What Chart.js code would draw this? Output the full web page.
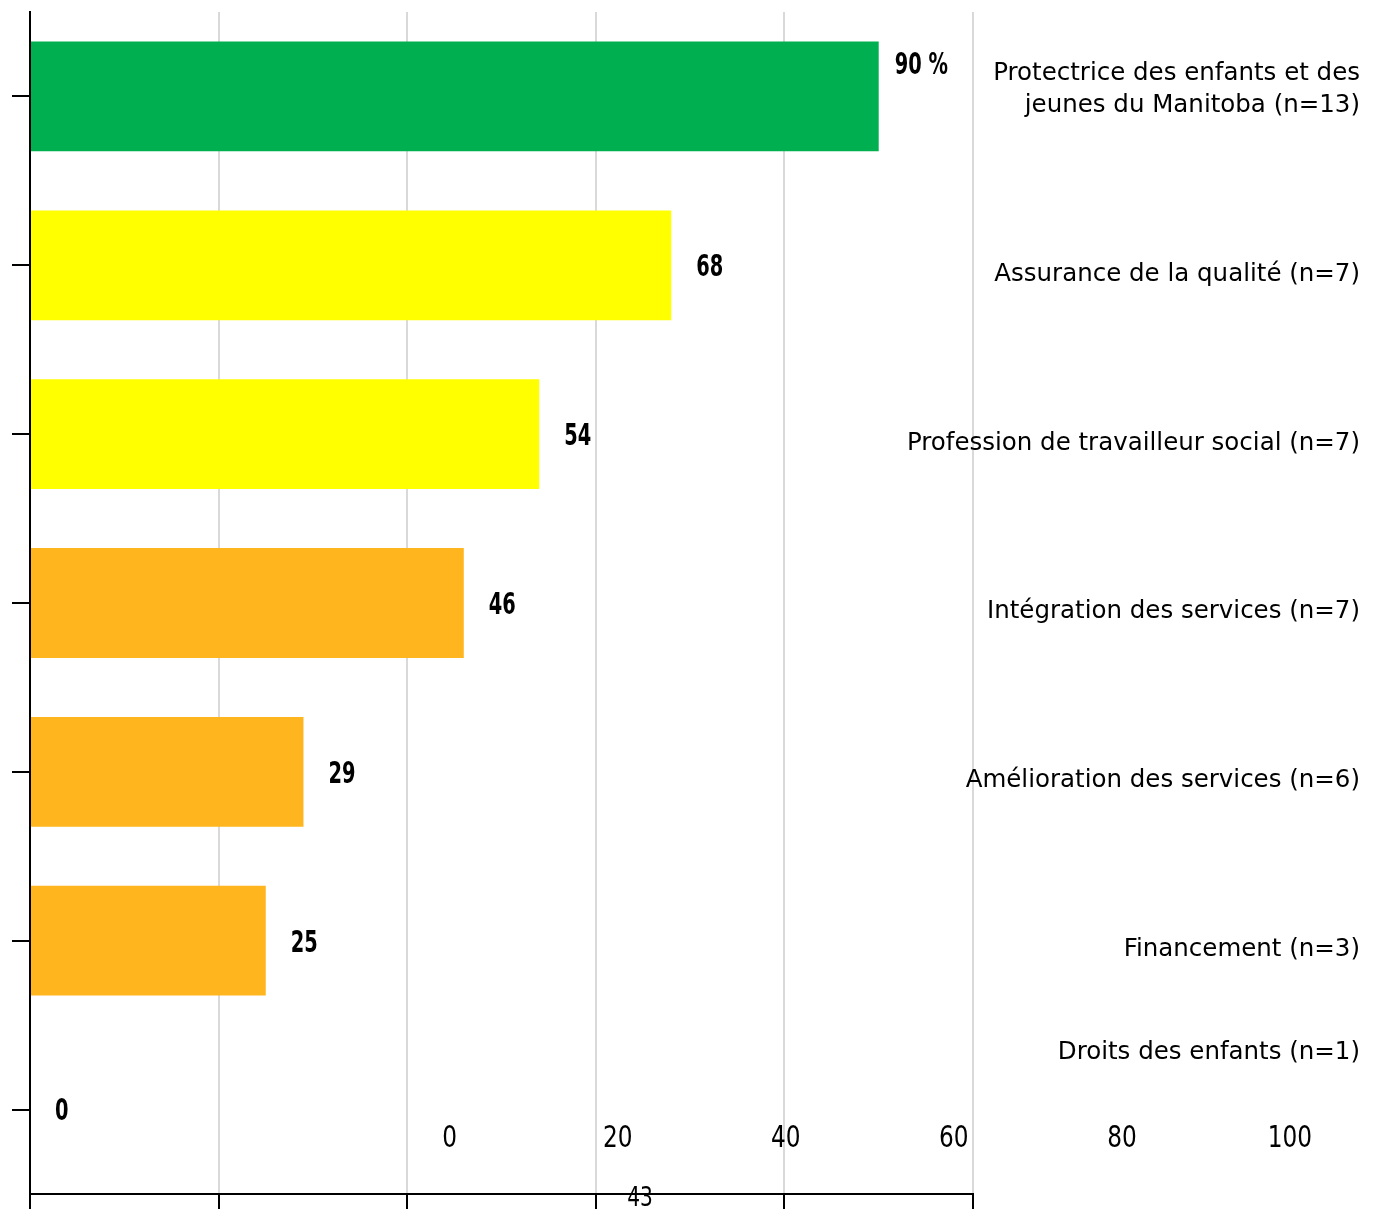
<!DOCTYPE html>
<html lang="fr">
<head>
    <meta charset="UTF-8">
    <title>Thèmes des recommandations</title>
    <script src="https://cdn.jsdelivr.net/npm/chart.js"></script>
    <style>
        body {
            margin: 0;
            background: #fff;
            overflow: hidden;
        }

        canvas {
            display: block;
        }
    </style>
</head>
<body>
    <canvas id="themesChart" width="1379" height="1209"></canvas>

    <script>
        // Data
        const categories = [
            ['Protectrice des enfants et des', 'jeunes du Manitoba (n=13)'],
            'Assurance de la qualité (n=7)',
            'Profession de travailleur social (n=7)',
            'Intégration des services (n=7)',
            'Amélioration des services (n=6)',
            'Financement (n=3)',
            'Droits des enfants (n=1)'
        ];
        const values = [90, 68, 54, 46, 29, 25, 0];
        const barColors = ['#00b050', '#ffff00', '#ffff00', '#ffb51e', '#ffb51e', '#ffb51e', '#ffb51e'];
        const tickLabels = ['0', '20', '40', '60', '80', '100'];
        const strayLabel = '43';

        const narrowFont = '"Liberation Sans Narrow", "DejaVu Sans Condensed", sans-serif';
        const labelFont = '"DejaVu Sans", Verdana, sans-serif';

        // narrow, tall numbers like the source (squeezed horizontally)
        function drawNarrow(ctx, text, x, y, font, kx, align) {
            ctx.save();
            ctx.translate(x, y);
            ctx.scale(kx, 1);
            ctx.font = font;
            ctx.textAlign = align;
            ctx.textBaseline = 'middle';
            ctx.fillText(text, 0, 0);
            ctx.restore();
        }

        // Category names on the right, value labels at bar ends, odd tick row
        const textPlugin = {
            id: 'textPlugin',
            afterDatasetsDraw(chart) {
                const ctx = chart.ctx;
                const x = chart.scales.x;
                const y = chart.scales.y;
                const meta = chart.getDatasetMeta(0);
                const last = categories.length - 1;

                ctx.save();
                ctx.fillStyle = '#000';

                // value labels
                meta.data.forEach((bar, i) => {
                    const txt = i === 0 ? values[i] + ' %' : String(values[i]);
                    const dx = i === 0 ? 16 : 25;
                    const dy = i === 0 ? -30 : 3;
                    drawNarrow(ctx, txt, bar.x + dx, bar.y + dy, 'bold 30px ' + narrowFont, 0.72, 'left');
                });

                // category labels
                ctx.font = '24.5px ' + labelFont;
                ctx.textAlign = 'right';
                ctx.textBaseline = 'middle';
                categories.forEach((cat, i) => {
                    const lines = Array.isArray(cat) ? cat : [cat];
                    const cy = y.getPixelForValue(i);
                    let top = (i === last ? -57 : 9) - 32 * (lines.length - 1);
                    lines.forEach((ln, j) => {
                        ctx.fillText(ln, 1360, cy + top + j * 32);
                    });
                });

                // tick labels (shifted row, as in the source)
                tickLabels.forEach(t => {
                    const px = x.getPixelForValue(Number(t));
                    drawNarrow(ctx, t, 423 + px * 0.891, 1139, '30px ' + narrowFont, 0.86, 'center');
                });

                drawNarrow(ctx, strayLabel, 640, 1199, '26px ' + narrowFont, 0.86, 'center');
                ctx.restore();
            }
        };

        const chartCtx = document.getElementById('themesChart').getContext('2d');
        new Chart(chartCtx, {
            type: 'bar',
            data: {
                labels: categories,
                datasets: [{
                    data: values,
                    backgroundColor: barColors,
                    borderWidth: 0,
                    barPercentage: 0.65,
                    categoryPercentage: 1
                }]
            },
            options: {
                indexAxis: 'y',
                responsive: false,
                animation: false,
                devicePixelRatio: 1,
                layout: {
                    padding: { top: 12, right: 406, left: 0, bottom: 0 }
                },
                plugins: {
                    legend: { display: false },
                    tooltip: { enabled: false }
                },
                scales: {
                    x: {
                        min: 0,
                        max: 100,
                        ticks: { display: false, stepSize: 20 },
                        grid: {
                            color: '#d9d9d9',
                            lineWidth: 2,
                            tickColor: '#000',
                            tickWidth: 2,
                            tickLength: 15
                        },
                        border: { color: '#000', width: 2 },
                        afterFit: s => { s.height = 15; }
                    },
                    y: {
                        ticks: { display: false },
                        grid: {
                            offset: false,
                            drawOnChartArea: false,
                            color: '#000',
                            lineWidth: 2,
                            tickLength: 18
                        },
                        border: { color: '#000', width: 2 },
                        afterFit: s => { s.width = 30; }
                    }
                }
            },
            plugins: [textPlugin]
        });
    </script>
</body>
</html>
